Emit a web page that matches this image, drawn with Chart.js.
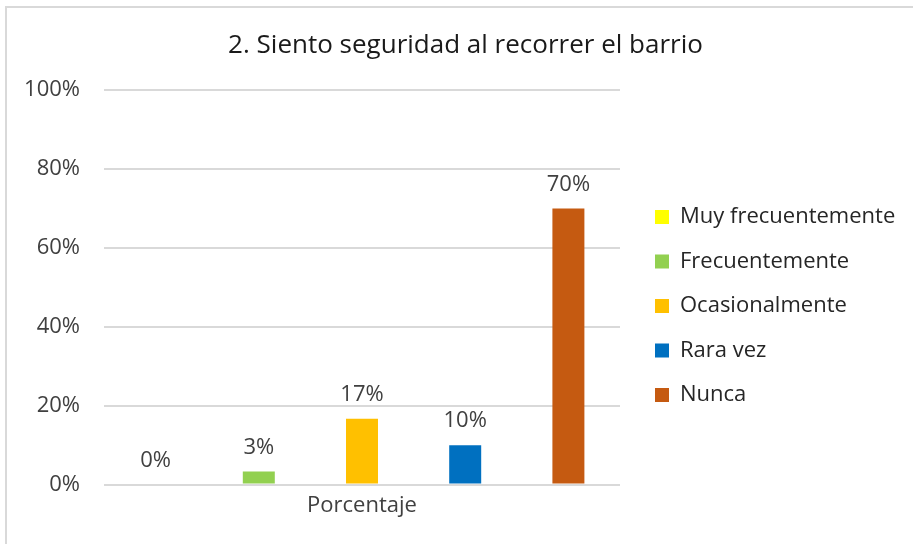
<!DOCTYPE html>
<html>
<head>
<meta charset="utf-8">
<script src="https://cdn.jsdelivr.net/npm/chart.js@4.4.1/dist/chart.umd.min.js"></script>
<style>
html, body { margin: 0; padding: 0; background: #fff; }
#marco { position: absolute; left: 5px; top: 6px; width: 930px; height: 560px; border: 2px solid #d9d9d9; box-sizing: border-box; }
#contenedor { position: absolute; left: 0; top: 0; width: 913px; height: 544px; }
</style>
</head>
<body>
<div id="marco"></div>
<div id="contenedor"><canvas id="grafico"></canvas></div>
<script>
const titulo = "2. Siento seguridad al recorrer el barrio";
const categorias = ["Porcentaje"];
const respuestas = ["Muy frecuentemente", "Frecuentemente", "Ocasionalmente", "Rara vez", "Nunca"];
const porcentajes = [0, 3.3, 16.7, 10, 70];
const colores = ["#FFFF00", "#92D050", "#FFC000", "#0070C0", "#C55A11"];
const fuente = "'Open Sans', sans-serif";

const datasets = respuestas.map((r, i) => ({
    label: r,
    data: [porcentajes[i]],
    backgroundColor: colores[i],
    categoryPercentage: 1,
    barPercentage: 0.31
}));

// etiquetas de valor encima de cada barra
const etiquetasValor = {
    id: "etiquetasValor",
    afterDatasetsDraw(chart) {
        const ctx = chart.ctx;
        ctx.save();
        ctx.font = "22px " + fuente;
        ctx.fillStyle = "#404040";
        ctx.textAlign = "center";
        ctx.textBaseline = "middle";
        chart.data.datasets.forEach((ds, i) => {
            const meta = chart.getDatasetMeta(i);
            meta.data.forEach((bar, j) => {
                ctx.fillText(Math.round(ds.data[j]) + "%", bar.x, bar.y - 24);
            });
        });
        ctx.restore();
    }
};

// coloca la leyenda y el título donde están en el original
const ajusteLeyenda = {
    id: "ajusteLeyenda",
    afterLayout(chart) {
        const l = chart.legend;
        const pad = l.options.labels.padding;
        l.left = 655 - pad;
        l.right = chart.width;
        l.width = l.right - l.left;
        l.top = 206 - pad;
        l.bottom = chart.height;
        l.height = l.bottom - l.top;

        const t = chart.titleBlock;
        t.left += 29;
        t.right += 29;
    }
};

new Chart(document.getElementById("grafico"), {
    type: "bar",
    data: { labels: categorias, datasets: datasets },
    options: {
        responsive: true,
        maintainAspectRatio: false,
        animation: false,
        layout: { padding: { left: 10, right: 50, top: 0, bottom: 17 } },
        plugins: {
            title: {
                display: true,
                text: titulo,
                color: "#1a1a1a",
                font: { family: fuente, size: 26, weight: "normal" },
                padding: { top: 30, bottom: 29 }
            },
            legend: {
                position: "right",
                align: "start",
                maxWidth: 243,
                labels: {
                    boxWidth: 14,
                    boxHeight: 14,
                    padding: 22.5,
                    color: "#262626",
                    font: { family: fuente, size: 22 }
                }
            },
            tooltip: { enabled: false }
        },
        scales: {
            x: {
                grid: { display: false, drawTicks: false },
                border: { display: false },
                ticks: { color: "#404040", padding: 8, font: { family: fuente, size: 22 } }
            },
            y: {
                min: 0,
                max: 100,
                afterFit(scale) { scale.width = 94; },
                grid: { color: "#d9d9d9", lineWidth: 2, drawTicks: false },
                border: { display: false },
                ticks: {
                    stepSize: 20,
                    padding: 24,
                    color: "#404040",
                    font: { family: fuente, size: 22 },
                    callback: v => v + "%"
                }
            }
        }
    },
    plugins: [etiquetasValor, ajusteLeyenda]
});
</script>
</body>
</html>
